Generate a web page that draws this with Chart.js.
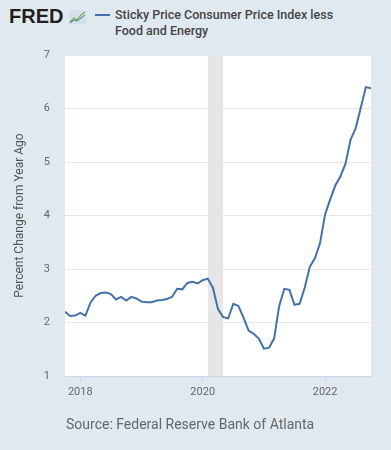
<!DOCTYPE html>
<html>
<head>
<meta charset="utf-8">
<script src="https://cdn.jsdelivr.net/npm/chart.js@4.4.0/dist/chart.umd.min.js"></script>
<style>
  html, body { margin: 0; padding: 0; background: #e1e9f0; }
  body { width: 391px; height: 450px; position: relative; overflow: hidden; font-family: Roboto, sans-serif; }
  #chartBox { position: absolute; left: 0; top: 0; width: 391px; height: 450px; }
  .logo { position: absolute; left: 9px; top: 5px; font: bold 20px "Liberation Sans", Arial, sans-serif; color: #231f20; letter-spacing: 0px; }
  .logo svg { position: absolute; left: 60px; top: 5px; }
  .legend-line { position: absolute; left: 95px; top: 14px; width: 15px; height: 2px; background: #4472a8; }
  .legend-text { position: absolute; left: 115px; top: 7px; font: 500 12.5px Roboto, sans-serif; line-height: 16px; color: #444; }
  .source { position: absolute; left: 66px; top: 416px; font: 14px Roboto, sans-serif; color: #666; }
</style>
</head>
<body>
<div class="logo">FRED<svg width="17" height="14" viewBox="0 0 17 14">
  <rect x="0" y="0" width="17" height="14" fill="#d6e0ea"/>
  <polyline points="1,12 5,8 8,10 12,5 16,2" fill="none" stroke="#7fb24d" stroke-width="1.3"/>
  <polyline points="1,13 5,10 8,11 12,8 16,5" fill="none" stroke="#4472a8" stroke-width="1"/>
</svg></div>
<div class="legend-line"></div>
<div class="legend-text">Sticky Price Consumer Price Index less<br>Food and Energy</div>
<div id="chartBox"><canvas id="chart"></canvas></div>
<div class="source">Source: Federal Reserve Bank of Atlanta</div>

<script>
// percent change from year ago, monthly
const firstMonth = '2017-10';
const values2017 = [2.20, 2.12, 2.13];
const values2018 = [2.18, 2.13, 2.37, 2.50, 2.55, 2.56, 2.53, 2.43, 2.48, 2.41, 2.48, 2.45];
const values2019 = [2.39, 2.38, 2.38, 2.41, 2.42, 2.44, 2.48, 2.63, 2.62, 2.74, 2.76, 2.73];
const values2020 = [2.79, 2.82, 2.65, 2.25, 2.10, 2.08, 2.35, 2.31, 2.09, 1.85, 1.79, 1.70];
const values2021 = [1.51, 1.53, 1.70, 2.31, 2.63, 2.61, 2.33, 2.35, 2.65, 3.04, 3.20, 3.48];
const values2022 = [4.02, 4.30, 4.56, 4.73, 4.97, 5.42, 5.63, 6.02, 6.40, 6.38];

const tickYears = [2018, 2020, 2022];
const yTicks = [1, 2, 3, 4, 5, 6, 7];
const recessions = [['2020-02', '2020-05']];

function toYear(s) {
    const [y, m] = s.split('-').map(Number);
    return y + (m - 1) / 12;
}

const allValues = [].concat(values2017, values2018, values2019, values2020, values2021, values2022);
const start = toYear(firstMonth);
const points = allValues.map((v, i) => ({ x: start + i / 12, y: v }));

const plotBg = {
    id: 'plotBg',
    beforeDraw(chart) {
        const { ctx, chartArea: a } = chart;
        ctx.save();
        ctx.fillStyle = '#ffffff';
        ctx.fillRect(a.left, a.top, a.right - a.left, a.bottom - a.top);
        ctx.restore();
    },
    beforeDatasetsDraw(chart) {
        const { ctx, chartArea: a } = chart;
        const xs = chart.scales.x;
        ctx.save();
        ctx.fillStyle = '#e6e6e6';
        recessions.forEach(r => {
            const x0 = xs.getPixelForValue(toYear(r[0]));
            const x1 = xs.getPixelForValue(toYear(r[1]));
            ctx.fillRect(x0, a.top, x1 - x0, a.bottom - a.top);
        });
        ctx.restore();
    }
};

new Chart(document.getElementById('chart').getContext('2d'), {
    type: 'line',
    data: {
        datasets: [{
            label: 'Sticky Price Consumer Price Index less Food and Energy',
            data: points,
            borderColor: '#4472a8',
            borderWidth: 2,
            pointRadius: 0,
            tension: 0,
            fill: false
        }]
    },
    options: {
        responsive: true,
        maintainAspectRatio: false,
        animation: false,
        layout: { padding: { left: 0, top: 55, right: 20, bottom: 49 } },
        plugins: { legend: { display: false }, tooltip: { enabled: false } },
        scales: {
            x: {
                type: 'linear',
                min: toYear(firstMonth),
                max: toYear(firstMonth) + (allValues.length - 1) / 12,
                afterBuildTicks: s => { s.ticks = tickYears.map(v => ({ value: v })); },
                afterFit: s => { s.height = 25; },
                grid: { drawOnChartArea: false, color: '#ccd6eb', tickLength: 5 },
                border: { color: '#ccd6eb' },
                ticks: {
                    padding: 5,
                    maxRotation: 0,
                    color: '#666',
                    font: { family: 'Roboto', size: 11 },
                    callback: v => String(v)
                }
            },
            y: {
                min: 1,
                max: 7,
                afterBuildTicks: s => { s.ticks = yTicks.map(v => ({ value: v })); },
                afterFit: s => { s.width = 65; },
                grid: { color: '#e6e6e6', drawTicks: false },
                border: { display: false },
                ticks: {
                    padding: 15,
                    color: '#666',
                    font: { family: 'Roboto', size: 11 }
                },
                title: {
                    display: true,
                    text: 'Percent Change from Year Ago',
                    color: '#555',
                    font: { family: 'Roboto', size: 12 },
                    padding: { top: 13, bottom: 0 }
                }
            }
        }
    },
    plugins: [plotBg]
});
</script>
</body>
</html>
